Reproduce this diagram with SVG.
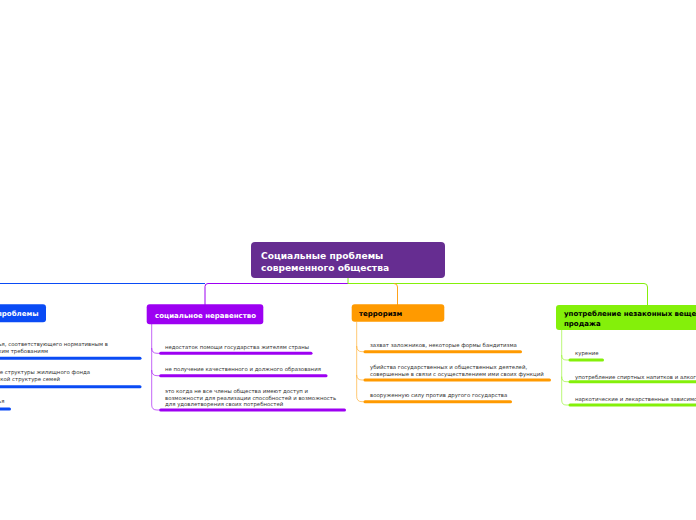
<svg xmlns="http://www.w3.org/2000/svg" width="696" height="520" viewBox="0 0 696 520">
<style>
.t{font-family:"DejaVu Sans",Verdana,sans-serif;}
.root{font-size:9.1px;font-weight:bold;fill:#fff;}
.mt{font-size:7px;font-weight:bold;}
.it{font-size:5.4px;fill:#333;}
.ul{stroke-width:3;stroke-linecap:round;fill:none;}
.cn{fill:none;stroke-width:1;}
</style>
<rect width="696" height="520" fill="#fff"/>
<g id="connectors">
  <path class="cn" d="M205,283.5 H-10" stroke="#0A4BF5"/>
  <path class="cn" d="M348,283.5 H208 Q205,283.5 205,286.5 V305" stroke="#9D00F2"/>
  <path class="cn" d="M348,278 V283.5 H644 Q647.5,283.5 647.5,287 V306" stroke="#84F00A"/>
  <path class="cn" d="M394,283.5 Q397.5,283.5 397.5,287 V305" stroke="#FFA21A"/>
  <g stroke="#9D00F2" stroke-opacity="0.6" class="cn">
    <path d="M151.7,324 V348 Q151.7,353.3 157,353.3 H160.7"/>
    <path d="M151.7,348 V370 Q151.7,375.7 157,375.7 H160.7"/>
    <path d="M151.7,370 V405 Q151.7,410 157,410 H160.7"/>
  </g>
  <g stroke="#FF9A00" stroke-opacity="0.55" class="cn">
    <path d="M356.7,322 V346 Q356.7,351.7 362,351.7 H365"/>
    <path d="M356.7,346 V375 Q356.7,380 362,380 H365"/>
    <path d="M356.7,375 V396.5 Q356.7,401.7 362,401.7 H365"/>
  </g>
  <g stroke="#84F00A" stroke-opacity="0.55" class="cn">
    <path d="M561.7,330 V355 Q561.7,360 566,360 H570"/>
    <path d="M561.7,355 V376.5 Q561.7,381.7 566,381.7 H570"/>
    <path d="M561.7,376.5 V400 Q561.7,405 566,405 H570"/>
  </g>
</g>
<g id="root">
  <rect x="251" y="242" width="194" height="36" rx="4" fill="#662D91"/>
  <text class="t root" x="261" y="259">Социальные проблемы</text>
  <text class="t root" x="261" y="271">современного общества</text>
</g>
<g id="housing">
  <rect x="-90" y="304.3" width="136" height="18" rx="3" fill="#0A4BF5"/>
  <text class="t mt" x="38.5" y="316" text-anchor="end" fill="#fff">жилищные проблемы</text>
  <text class="t it" x="108" y="346" text-anchor="end">отсутствие жилья, соответствующего нормативным в</text>
  <text class="t it" x="48" y="352.7" text-anchor="end">санитарно-гигиеническим требованиям</text>
  <line class="ul" x1="-20" y1="358.3" x2="140" y2="358.3" stroke="#0A4BF5"/>
  <text class="t it" x="90" y="374.3" text-anchor="end">несоответствие структуры жилищного фонда</text>
  <text class="t it" x="60" y="381" text-anchor="end">демографической структуре семей</text>
  <line class="ul" x1="-20" y1="386.7" x2="140" y2="386.7" stroke="#0A4BF5"/>
  <text class="t it" x="4.5" y="402.7" text-anchor="end">нехватка жилья</text>
  <line class="ul" x1="-20" y1="409" x2="9.5" y2="409" stroke="#0A4BF5"/>
</g>
<g id="inequality">
  <rect x="146.7" y="304.3" width="116.6" height="20" rx="3" fill="#9D00F2"/>
  <text class="t mt" x="155" y="317.5" fill="#fff">социальное неравенство</text>
  <text class="t it" x="165" y="348.5">недостаток помощи государства жителям страны</text>
  <line class="ul" x1="160.7" y1="353.3" x2="311" y2="353.3" stroke="#9D00F2"/>
  <text class="t it" x="165" y="370.5">не получение качественного и должного образования</text>
  <line class="ul" x1="160.7" y1="375.7" x2="326" y2="375.7" stroke="#9D00F2"/>
  <text class="t it" x="165" y="393">это когда не все члены общества имеют доступ и</text>
  <text class="t it" x="165" y="399.5">возможности для реализации способностей и возможность</text>
  <text class="t it" x="165" y="406">для удовлетворения своих потребностей</text>
  <line class="ul" x1="160.7" y1="410" x2="344.5" y2="410" stroke="#9D00F2"/>
</g>
<g id="terrorism">
  <rect x="351.7" y="304.3" width="92.6" height="17.4" rx="3" fill="#FF9A00"/>
  <text class="t mt" x="359" y="315.5" fill="#000">терроризм</text>
  <text class="t it" x="370" y="347">захват заложников, некоторые формы бандитизма</text>
  <line class="ul" x1="365" y1="351.7" x2="520.5" y2="351.7" stroke="#FF9A00"/>
  <text class="t it" x="370" y="369">убийства государственных и общественных деятелей,</text>
  <text class="t it" x="370" y="375.5">совершенные в связи с осуществлением ими своих функций</text>
  <line class="ul" x1="365" y1="380" x2="549.5" y2="380" stroke="#FF9A00"/>
  <text class="t it" x="370" y="397">вооруженную силу против другого государства</text>
  <line class="ul" x1="365" y1="401.7" x2="510.5" y2="401.7" stroke="#FF9A00"/>
</g>
<g id="drugs">
  <rect x="556" y="305" width="200" height="25" rx="3" fill="#84F00A"/>
  <text class="t mt" x="564" y="316" fill="#000">употребление незаконных веществ и их</text>
  <text class="t mt" x="564" y="325.5" fill="#000">продажа</text>
  <text class="t it" x="575" y="355">курение</text>
  <line class="ul" x1="570" y1="360" x2="602.5" y2="360" stroke="#84F00A"/>
  <text class="t it" x="575" y="378.5">употребление спиртных напитков и алкоголя</text>
  <line class="ul" x1="570" y1="381.7" x2="710" y2="381.7" stroke="#84F00A"/>
  <text class="t it" x="575" y="400.5">наркотические и лекарственные зависимости</text>
  <line class="ul" x1="570" y1="405" x2="710" y2="405" stroke="#84F00A"/>
</g>
</svg>
